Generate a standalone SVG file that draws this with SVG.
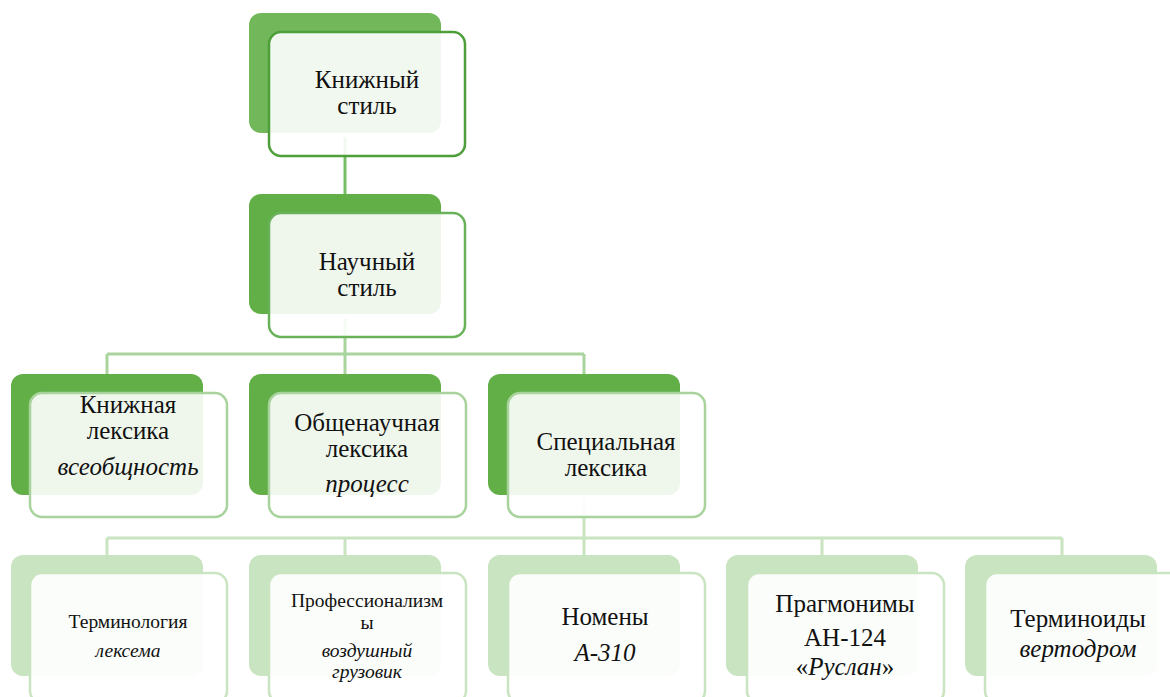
<svg xmlns="http://www.w3.org/2000/svg" width="1170" height="697" viewBox="0 0 1170 697">
<style>
text{font-family:"Liberation Serif","Times New Roman",serif;fill:#111;text-anchor:middle}
.t22{font-size:25px}
.t17{font-size:19.5px}
.i{font-style:italic}
.front{fill:#fff;fill-opacity:0.9;stroke-width:2.5}
.b1{fill:#72b85a}
.b2{fill:#62af47}
.b3{fill:#c9e4c0}
.f1{stroke:#4e9e3a}
.f2{stroke:#6ab25a}
.f3{stroke:#a8d39c}
.f4{stroke:#c9e4c0}
.c{fill:none;stroke-width:3}
</style>
<rect width="1170" height="697" fill="#fff"/>
<g id="connectors">
<path class="c" stroke="#78bc66" d="M345 137V212"/>
<path class="c" stroke="#a9d49e" d="M345 318V354M107 354H584M107 354V375M345 354V375M584 354V375"/>
<path class="c" stroke="#c9e4c0" d="M584 498V538M107 538H1062M107 538V556M345 538V556M584 538V556M822 538V556M1062 538V556"/>
</g>
<g id="node-knizhny-stil">
<rect class="b1" x="249" y="13" width="192" height="120" rx="12"/>
<rect class="front f1" x="269" y="32" width="196" height="124" rx="12"/>
<text class="t22" x="367" y="88">Книжный</text>
<text class="t22" x="367" y="114">стиль</text>
</g>
<g id="node-nauchny-stil">
<rect class="b2" x="249" y="194" width="192" height="120" rx="12"/>
<rect class="front f2" x="269" y="213" width="196" height="124" rx="12"/>
<text class="t22" x="367" y="270">Научный</text>
<text class="t22" x="367" y="296">стиль</text>
</g>
<g id="node-knizhnaya-leksika">
<rect class="b2" x="11" y="374" width="192" height="121" rx="12"/>
<rect class="front f3" x="30" y="393" width="197" height="124" rx="12"/>
<text class="t22" x="128" y="413">Книжная</text>
<text class="t22" x="128" y="439">лексика</text>
<text class="t22 i" x="128" y="475">всеобщность</text>
</g>
<g id="node-obshchenauchnaya-leksika">
<rect class="b2" x="249" y="374" width="192" height="121" rx="12"/>
<rect class="front f3" x="269" y="393" width="197" height="124" rx="12"/>
<text class="t22" x="367" y="431">Общенаучная</text>
<text class="t22" x="367" y="457">лексика</text>
<text class="t22 i" x="367" y="492">процесс</text>
</g>
<g id="node-specialnaya-leksika">
<rect class="b2" x="488" y="374" width="192" height="121" rx="12"/>
<rect class="front f3" x="508" y="393" width="197" height="124" rx="12"/>
<text class="t22" x="606" y="450">Специальная</text>
<text class="t22" x="606" y="476">лексика</text>
</g>
<g id="node-terminologiya">
<rect class="b3" x="11" y="555" width="192" height="121" rx="12"/>
<rect class="front f4" x="30" y="573" width="197" height="130" rx="12"/>
<text class="t17" x="128" y="628">Терминология</text>
<text class="t17 i" x="128" y="657">лексема</text>
</g>
<g id="node-professionalizmy">
<rect class="b3" x="249" y="555" width="192" height="121" rx="12"/>
<rect class="front f4" x="269" y="573" width="197" height="130" rx="12"/>
<text class="t17" x="367" y="607">Профессионализм</text>
<text class="t17" x="367" y="629">ы</text>
<text class="t17 i" x="367" y="657">воздушный</text>
<text class="t17 i" x="367" y="678">грузовик</text>
</g>
<g id="node-nomeny">
<rect class="b3" x="488" y="555" width="192" height="121" rx="12"/>
<rect class="front f4" x="508" y="573" width="197" height="130" rx="12"/>
<text class="t22" x="605" y="625">Номены</text>
<text class="t22 i" x="605" y="661">А-310</text>
</g>
<g id="node-pragmonimy">
<rect class="b3" x="726" y="555" width="192" height="121" rx="12"/>
<rect class="front f4" x="747" y="573" width="197" height="130" rx="12"/>
<text class="t22" x="845" y="612">Прагмонимы</text>
<text class="t22" x="845" y="646">АН-124</text>
<text class="t22" x="845" y="675">«<tspan class="i">Руслан</tspan>»</text>
</g>
<g id="node-terminoidy">
<rect class="b3" x="965" y="555" width="192" height="121" rx="12"/>
<rect class="front f4" x="985" y="573" width="197" height="130" rx="12"/>
<text class="t22" x="1078" y="627">Терминоиды</text>
<text class="t22 i" x="1078" y="657">вертодром</text>
</g>
</svg>
